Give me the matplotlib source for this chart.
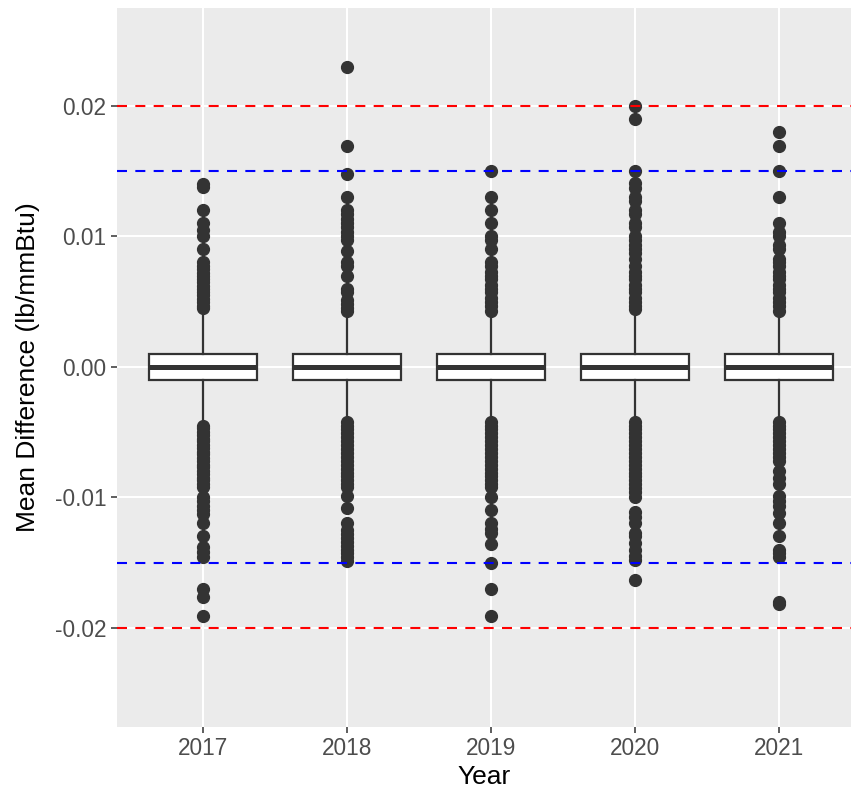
import numpy as np
import matplotlib.pyplot as plt

# -------------------------------------------------
# Data
# -------------------------------------------------

years = ["2017", "2018", "2019", "2020", "2021"]

q1 = [-0.001, -0.001, -0.001, -0.001, -0.001]
median = [0.0, 0.0, 0.0, 0.0, 0.0]
q3 = [0.001, 0.001, 0.001, 0.001, 0.001]
whisker_low = [-0.004, -0.004, -0.004, -0.004, -0.004]
whisker_high = [0.004, 0.004, 0.004, 0.004, 0.004]

out_2017 = [0.0140, 0.0138, 0.0120, 0.0110, 0.0105, 0.0100, 0.0090, 0.0080,
            0.0077, 0.0075, 0.0072, 0.0070, 0.0067, 0.0065, 0.0062, 0.0060,
            0.0057, 0.0055, 0.0052, 0.0050, 0.0047, 0.0045,
            -0.0045, -0.0047, -0.0050, -0.0052, -0.0055, -0.0057, -0.0060,
            -0.0062, -0.0065, -0.0067, -0.0070, -0.0072, -0.0075, -0.0077,
            -0.0080, -0.0082, -0.0085, -0.0087, -0.0090, -0.0092, -0.0100,
            -0.0103, -0.0107, -0.0110, -0.0113, -0.0120, -0.0130, -0.0138,
            -0.0142, -0.0146, -0.0170, -0.0176, -0.0191]

out_2018 = [0.0230, 0.0169, 0.0148, 0.0130, 0.0120, 0.0117, 0.0113, 0.0110,
            0.0107, 0.0103, 0.0100, 0.0097, 0.0089, 0.0080, 0.0077, 0.0070,
            0.0060, 0.0057, 0.0051, 0.0048, 0.0045, 0.0043,
            -0.0042, -0.0045, -0.0048, -0.0051, -0.0054, -0.0057, -0.0060,
            -0.0063, -0.0066, -0.0069, -0.0072, -0.0075, -0.0078, -0.0081,
            -0.0084, -0.0087, -0.0090, -0.0092, -0.0099, -0.0108, -0.0120,
            -0.0125, -0.0128, -0.0131, -0.0134, -0.0137, -0.0140, -0.0143,
            -0.0146, -0.0149]

out_2019 = [0.0150, 0.0130, 0.0120, 0.0110, 0.0100, 0.0097, 0.0090, 0.0080,
            0.0077, 0.0073, 0.0070, 0.0067, 0.0063, 0.0060, 0.0057, 0.0053,
            0.0050, 0.0047, 0.0043,
            -0.0042, -0.0045, -0.0048, -0.0051, -0.0054, -0.0057, -0.0060,
            -0.0063, -0.0066, -0.0069, -0.0072, -0.0075, -0.0078, -0.0081,
            -0.0084, -0.0087, -0.0090, -0.0092, -0.0100, -0.0110, -0.0120,
            -0.0124, -0.0127, -0.0136, -0.0150, -0.0170, -0.0191]

out_2020 = [0.0200, 0.0190, 0.0150, 0.0141, 0.0137, 0.0130, 0.0127, 0.0120,
            0.0117, 0.0110, 0.0107, 0.0100, 0.0097, 0.0093, 0.0090, 0.0087,
            0.0083, 0.0077, 0.0073, 0.0070, 0.0067, 0.0063, 0.0060, 0.0057,
            0.0053, 0.0050, 0.0047, 0.0044,
            -0.0042, -0.0045, -0.0048, -0.0051, -0.0054, -0.0057, -0.0060,
            -0.0063, -0.0066, -0.0069, -0.0072, -0.0075, -0.0078, -0.0081,
            -0.0084, -0.0087, -0.0090, -0.0093, -0.0096, -0.0100, -0.0111,
            -0.0115, -0.0120, -0.0127, -0.0130, -0.0135, -0.0140, -0.0145,
            -0.0148, -0.0163]

out_2021 = [0.0180, 0.0169, 0.0150, 0.0130, 0.0110, 0.0103, 0.0100, 0.0093,
            0.0090, 0.0083, 0.0080, 0.0077, 0.0073, 0.0070, 0.0067, 0.0063,
            0.0060, 0.0057, 0.0053, 0.0050, 0.0047, 0.0043,
            -0.0042, -0.0045, -0.0048, -0.0051, -0.0054, -0.0057, -0.0060,
            -0.0063, -0.0066, -0.0069, -0.0072, -0.0080, -0.0085, -0.0090,
            -0.0099, -0.0103, -0.0107, -0.0112, -0.0120, -0.0130, -0.0140,
            -0.0143, -0.0146, -0.0180, -0.0182]

outliers = [out_2017, out_2018, out_2019, out_2020, out_2021]

red_limit = 0.02
blue_limit = 0.015

# -------------------------------------------------
# Plot
# -------------------------------------------------

plt.rcParams["font.family"] = ["Liberation Sans", "DejaVu Sans"]

fig = plt.figure(figsize=(8.56, 7.91), dpi=100)
ax = fig.add_axes([0.1367, 0.0809, 0.8575, 0.909])

ax.set_facecolor("#ebebeb")

stats = []
for i in range(len(years)):
    stats.append({
        "med": median[i], "q1": q1[i], "q3": q3[i],
        "whislo": whisker_low[i], "whishi": whisker_high[i],
        "fliers": outliers[i], "label": years[i],
    })

dark = "#333333"

ax.bxp(
    stats,
    positions=np.arange(1, len(years) + 1),
    widths=0.75,
    patch_artist=True,
    showcaps=False,
    boxprops=dict(facecolor="white", edgecolor=dark, linewidth=1.6),
    whiskerprops=dict(color=dark, linewidth=1.6),
    medianprops=dict(color=dark, linewidth=3.6),
    flierprops=dict(marker="o", markerfacecolor=dark, markeredgecolor=dark,
                    markersize=8.5, linestyle="none"),
    zorder=3,
)

for lim, col in [(red_limit, "red"), (-red_limit, "red"),
                 (blue_limit, "blue"), (-blue_limit, "blue")]:
    ax.axhline(lim, color=col, linewidth=1.5, dashes=(4.8, 4.0), zorder=4)

ax.set_xlim(0.4, 5.5)
ax.set_ylim(-0.0276, 0.0275)

ax.set_yticks([-0.02, -0.01, 0.0, 0.01, 0.02])
ax.set_yticklabels(["-0.02", "-0.01", "0.00", "0.01", "0.02"])

ax.grid(True, color="white", linewidth=1.5, zorder=0)
ax.set_axisbelow(True)

for side in ax.spines.values():
    side.set_visible(False)

ax.tick_params(axis="both", colors="#333333", length=4.5, width=1.1,
               labelsize=16.3, labelcolor="#4d4d4d", pad=3)

ax.set_xlabel("Year", fontsize=19, labelpad=3)
ax.set_ylabel("Mean Difference (lb/mmBtu)", fontsize=19, labelpad=11)

plt.savefig("out.png", dpi=100)
